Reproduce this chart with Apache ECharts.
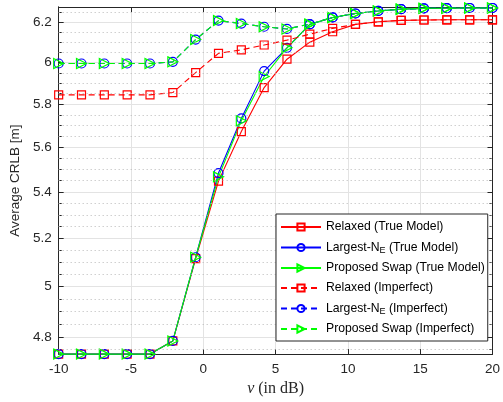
<!DOCTYPE html>
<html>
<head>
<meta charset="utf-8">
<script src="https://cdn.jsdelivr.net/npm/echarts@6/dist/echarts.min.js"></script>
<style>
html,body{margin:0;padding:0;background:#fff;}
#chart{width:503px;height:402px;}
</style>
</head>
<body>
<div id="chart"></div>
<script>
// ---- data ----
const nuDb = [-10, -8.421, -6.842, -5.263, -3.684, -2.105, -0.526, 1.053, 2.632, 4.211,
              5.789, 7.368, 8.947, 10.526, 12.105, 13.684, 15.263, 16.842, 18.421, 20];
const relaxedTrue  = [4.733, 4.733, 4.733, 4.733, 4.733, 4.784, 5.115, 5.448, 5.672, 5.879,
                      6.016, 6.100, 6.152, 6.189, 6.202, 6.209, 6.211, 6.212, 6.212, 6.212];
const largestTrue  = [4.733, 4.733, 4.733, 4.733, 4.733, 4.784, 5.121, 5.484, 5.733, 5.958,
                      6.072, 6.189, 6.224, 6.244, 6.257, 6.266, 6.270, 6.271, 6.272, 6.272];
const proposedTrue = [4.733, 4.733, 4.733, 4.733, 4.733, 4.784, 5.121, 5.467, 5.722, 5.932,
                      6.072, 6.189, 6.224, 6.244, 6.257, 6.266, 6.270, 6.271, 6.272, 6.272];
const relaxedImp   = [5.844, 5.844, 5.844, 5.844, 5.844, 5.855, 5.951, 6.045, 6.062, 6.086,
                      6.110, 6.140, 6.169, 6.189, 6.202, 6.209, 6.211, 6.212, 6.212, 6.212];
const largestImp   = [5.995, 5.995, 5.995, 5.995, 5.995, 6.003, 6.113, 6.208, 6.193, 6.177,
                      6.166, 6.190, 6.224, 6.244, 6.257, 6.266, 6.270, 6.271, 6.272, 6.272];
const proposedImp  = [5.995, 5.995, 5.995, 5.995, 5.995, 6.003, 6.113, 6.208, 6.193, 6.177,
                      6.166, 6.190, 6.224, 6.244, 6.257, 6.266, 6.270, 6.271, 6.272, 6.272];
const yTicks = [4.8, 5.0, 5.2, 5.4, 5.6, 5.8, 6.0, 6.2];
const yMinorTicks = [4.75, 4.85, 4.9, 4.95, 5.05, 5.1, 5.15, 5.25, 5.3, 5.35, 5.45, 5.5, 5.55,
                     5.65, 5.7, 5.75, 5.85, 5.9, 5.95, 6.05, 6.1, 6.15, 6.25];
const xTicks = [-10, -5, 0, 5, 10, 15, 20];
const names = ['Relaxed (True Model)', 'Largest-N_E (True Model)', 'Proposed Swap (True Model)',
               'Relaxed (Imperfect)', 'Largest-N_E (Imperfect)', 'Proposed Swap (Imperfect)'];

// ---- styling ----
const AX = '#262626';
const FONT = 'Liberation Sans, Arial, Helvetica, sans-serif';
const yMin = 4.733, yMax = 6.277;
const triRight = 'path://M0,0L10,5L0,10Z';

function mk(name, vals, color, symbol, size, dashed) {
  return {
    name: name,
    type: 'line',
    xAxisIndex: 0,
    yAxisIndex: 0,
    z: 3,
    data: nuDb.map((x, i) => [x, vals[i]]),
    color: color,
    symbol: symbol,
    symbolSize: size,
    symbolKeepAspect: true,
    showAllSymbol: true,
    clip: false,
    animation: false,
    lineStyle: {color: color, width: 1.1, type: dashed ? [6, 4] : 'solid'},
    itemStyle: {color: 'rgba(255,255,255,0)', borderColor: color, borderWidth: 1.2},
    emphasis: {disabled: true}
  };
}

const logAxisBase = {type: 'log', logBase: 10, min: yMin, max: yMax,
  axisLine: {show: true, onZero: false, lineStyle: {color: AX, width: 1}}};

// minor dotted grid drawn as mark lines at the minor tick values (through the y scale)
const minorGridSeries = {
  name: 'minorGrid',
  type: 'line',
  xAxisIndex: 0, yAxisIndex: 0,
  z: 1,
  data: nuDb.map((x, i) => [x, relaxedTrue[i]]),
  symbol: 'none',
  lineStyle: {opacity: 0},
  silent: true,
  animation: false,
  tooltip: {show: false},
  markLine: {
    silent: true,
    symbol: ['none', 'none'],
    label: {show: false},
    animation: false,
    lineStyle: {color: '#b8b8b8', width: 1, type: [1, 3]},
    emphasis: {disabled: true},
    data: yMinorTicks.map(v => ({yAxis: v}))
  }
};

const option = {
  animation: false,
  backgroundColor: '#fff',
  grid: {left: 53, right: 6, top: 7, bottom: 45, containLabel: false},
  xAxis: [
    {
      type: 'value', min: -10, max: 20, interval: 5, position: 'bottom',
      axisLine: {show: true, onZero: false, lineStyle: {color: AX, width: 1}},
      axisTick: {show: true, inside: true, length: 5, lineStyle: {color: AX}},
      axisLabel: {show: true, color: AX, fontSize: 13.5, fontFamily: FONT, margin: 8,
                  customValues: xTicks},
      splitLine: {show: true, lineStyle: {color: '#e3e3e3', width: 1}},
      name: '{i|ν} (in dB)',
      nameLocation: 'middle', nameGap: 23,
      nameTextStyle: {fontSize: 16, fontFamily: 'Liberation Serif, Times New Roman, serif', color: AX,
                      rich: {i: {fontStyle: 'italic', fontSize: 16, fontFamily: 'Liberation Serif, Times New Roman, serif', color: AX}}}
    },
    {
      type: 'value', min: -10, max: 20, interval: 5, position: 'top',
      axisLine: {show: true, onZero: false, lineStyle: {color: AX, width: 1}},
      axisTick: {show: true, inside: true, length: 5, lineStyle: {color: AX}},
      axisLabel: {show: false},
      splitLine: {show: false}
    }
  ],
  yAxis: [
    Object.assign({}, logAxisBase, {
      position: 'left',
      axisTick: {show: true, inside: true, length: 5, lineStyle: {color: AX}, customValues: yTicks},
      axisLabel: {show: true, color: AX, fontSize: 13.5, fontFamily: FONT, margin: 7,
                  customValues: yTicks, formatter: v => String(+Number(v).toFixed(2))},
      splitLine: {show: true, lineStyle: {color: '#e3e3e3', width: 1}},
      minorTick: {show: false}, minorSplitLine: {show: false},
      name: 'Average CRLB [m]', nameLocation: 'middle', nameGap: 31,
      nameTextStyle: {fontSize: 13.5, fontFamily: FONT, color: AX}
    }),
    Object.assign({}, logAxisBase, {
      position: 'left',
      axisTick: {show: true, inside: true, length: 3, lineStyle: {color: AX}, customValues: yMinorTicks},
      axisLabel: {show: false},
      splitLine: {show: false}
    }),
    Object.assign({}, logAxisBase, {
      position: 'right',
      axisTick: {show: true, inside: true, length: 5, lineStyle: {color: AX}, customValues: yTicks},
      axisLabel: {show: false},
      splitLine: {show: false}
    }),
    Object.assign({}, logAxisBase, {
      position: 'right',
      axisTick: {show: true, inside: true, length: 3, lineStyle: {color: AX}, customValues: yMinorTicks},
      axisLabel: {show: false},
      splitLine: {show: false}
    })
  ],
  legend: {
    orient: 'vertical',
    left: 276, top: 214,
    itemWidth: 40, itemHeight: 9, itemGap: 6,
    padding: [6, 3, 5, 4],
    backgroundColor: '#fff',
    borderColor: AX, borderWidth: 1, borderRadius: 0,
    z: 10,
    data: names,
    formatter: n => n.replace('N_E', 'N{sub|E}'),
    textStyle: {fontSize: 12.2, lineHeight: 14, fontFamily: FONT, color: '#000',
                rich: {sub: {fontSize: 9, lineHeight: 14, fontFamily: FONT, color: '#000', padding: [6, 0, 0, 0]}}}
  },
  series: [
    minorGridSeries,
    mk(names[0], relaxedTrue, '#ff0000', 'rect', 8, false),
    mk(names[1], largestTrue, '#0000ff', 'circle', 9, false),
    mk(names[2], proposedTrue, '#00ff00', triRight, 10, false),
    mk(names[3], relaxedImp, '#ff0000', 'rect', 8, true),
    mk(names[4], largestImp, '#0000ff', 'circle', 9, true),
    mk(names[5], proposedImp, '#00ff00', triRight, 10, true)
  ]
};

const chart = echarts.init(document.getElementById('chart'), null, {renderer: 'canvas'});
chart.setOption(option);
</script>
</body>
</html>
